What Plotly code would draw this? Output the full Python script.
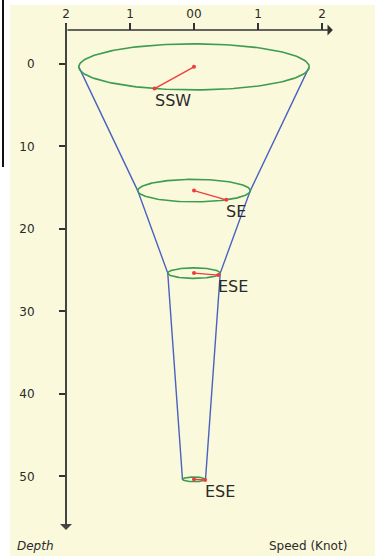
import numpy as np
import plotly.graph_objects as go

# ---- data ----
depths = [0, 15, 25, 50]              # m
speeds = [1.8, 0.88, 0.41, 0.18]      # knots
directions_deg = [200, 145, 112, 105] # degrees, true
direction_labels = ["SSW", "SE", "ESE", "ESE"]
depth_ticks = [0, 10, 20, 30, 40, 50]
speed_tickvals = [-2, -1, 0, 1, 2]
speed_ticktext = ["2", "1", "00", "1", "2"]

# ---- layout constants ----
W, H = 375, 556
ML, MR, MT, MB = 10, 0, 5, 0
X_RANGE = [-2.875, 2.828]
Y_RANGE = [59.64, -7.15]
pw, ph = W - ML - MR, H - MT - MB
px_knot = pw / (X_RANGE[1] - X_RANGE[0])
px_depth = ph / (Y_RANGE[0] - Y_RANGE[1])
TILT = 0.2
VR = TILT * px_knot / px_depth   # vertical radius (depth units) per knot
DY = 0.35                         # small drawing offset of the glyphs below the ticks

AX_X = -2.0        # where the depth axis sits (knots)
AX_Y = -4.12       # where the speed axis sits (depth)

GREEN = "#3c9c50"
BLUE = "#4a62c0"
RED = "#f03c3c"
TXT = "#2a2a2a"
BG = "#fbf9dc"

fig = go.Figure()
yd = [d + DY for d in depths]

# cone (blue)
fig.add_trace(go.Scatter(x=[-s for s in speeds], y=yd, mode="lines",
                         line=dict(color=BLUE, width=1.4), hoverinfo="skip", showlegend=False))
fig.add_trace(go.Scatter(x=speeds, y=yd, mode="lines",
                         line=dict(color=BLUE, width=1.4), hoverinfo="skip", showlegend=False))

# ellipses (green)
t = np.linspace(0, 2 * np.pi, 181)
for d, s in zip(yd, speeds):
    fig.add_trace(go.Scatter(x=s * np.cos(t), y=d + s * VR * np.sin(t), mode="lines",
                             line=dict(color=GREEN, width=1.6), hoverinfo="skip", showlegend=False))

# current vectors (red)
for d, s, a, lab in zip(yd, speeds, directions_deg, direction_labels):
    r = np.deg2rad(a)
    ex = s * np.sin(r)
    ey = d - s * np.cos(r) * VR
    fig.add_trace(go.Scatter(x=[0, ex], y=[d, ey], mode="lines+markers",
                             line=dict(color=RED, width=1.4),
                             marker=dict(size=4, color=RED),
                             hoverinfo="skip", showlegend=False))
    fig.add_annotation(x=ex, y=ey, xref="x", yref="y", text=lab, showarrow=False,
                       xanchor="left", yanchor="top", xshift=-2, yshift=0,
                       font=dict(family="DejaVu Sans", size=16, color=TXT))

# axis lines with arrows
fig.add_annotation(x=2.17, y=AX_Y, ax=AX_X, ay=AX_Y, xref="x", yref="y", axref="x", ayref="y",
                   text="", showarrow=True, arrowhead=1, arrowsize=1.2, arrowwidth=1.5, arrowcolor="#333")
fig.add_annotation(x=AX_X, y=56.5, ax=AX_X, ay=-4.97, xref="x", yref="y", axref="x", ayref="y",
                   text="", showarrow=True, arrowhead=1, arrowsize=1.0, arrowwidth=2, arrowcolor="#444")

# left black bar
fig.add_shape(type="line", xref="paper", yref="paper",
              x0=(3 - ML) / pw, x1=(3 - ML) / pw, y0=1 + MT / ph, y1=(H - 167) / ph,
              line=dict(color="#111", width=2))

# bottom captions
fig.add_annotation(xref="paper", yref="paper", x=(15 - ML) / pw, y=(H - 546) / ph,
                   text="<i>Depth</i>", showarrow=False, xanchor="left", yanchor="middle",
                   font=dict(family="DejaVu Sans", size=12, color=TXT))
fig.add_annotation(xref="paper", yref="paper", x=(349 - ML) / pw, y=(H - 546) / ph,
                   text="Speed (Knot)", showarrow=False, xanchor="right", yanchor="middle",
                   font=dict(family="DejaVu Sans", size=12, color=TXT))

fig.update_layout(
    width=W, height=H,
    margin=dict(l=ML, r=MR, t=MT, b=MB),
    paper_bgcolor="white", plot_bgcolor=BG,
    xaxis=dict(range=X_RANGE, side="top", anchor="free", position=(H - 30) / ph,
               tickvals=speed_tickvals, ticktext=speed_ticktext,
               ticks="outside", ticklen=7, tickwidth=1.5, tickcolor="#333",
               showline=False, showgrid=False, zeroline=False,
               tickfont=dict(family="DejaVu Sans", size=12, color=TXT)),
    yaxis=dict(range=Y_RANGE, anchor="free", position=(66 - ML) / pw,
               tickvals=depth_ticks, ticks="outside", ticklen=7, tickwidth=1.5, tickcolor="#333",
               ticklabelstandoff=22,
               showline=False, showgrid=False, zeroline=False,
               tickfont=dict(family="DejaVu Sans", size=12, color=TXT)),
)

fig.write_html("out.html", config={"displayModeBar": False},
               post_script="document.body.style.margin='0px';document.body.style.padding='0px';")
